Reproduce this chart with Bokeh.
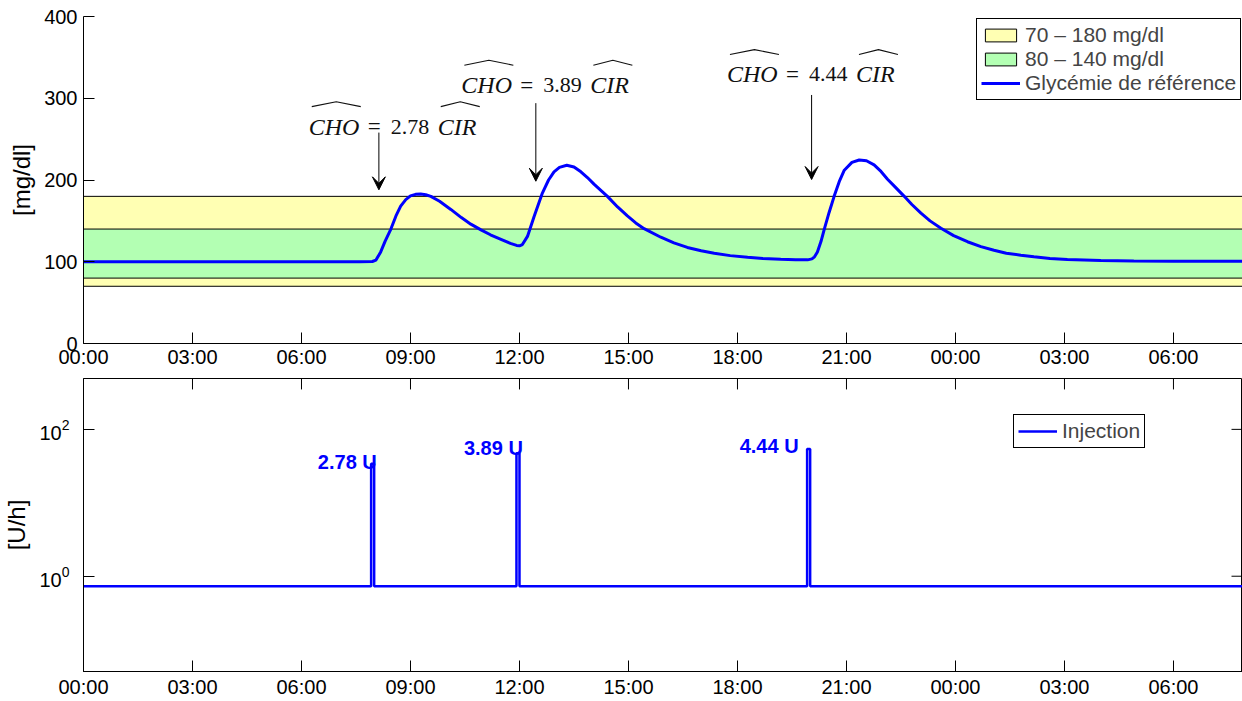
import numpy as np
from bokeh.plotting import figure
from bokeh.layouts import column
from bokeh.models import (Range1d, FixedTicker, Legend, LegendItem, Arrow, VeeHead,
                          ColumnDataSource)
from bokeh.core.properties import value
from bokeh.embed import file_html
from bokeh.resources import INLINE

# ---------------- data ----------------
tick_hours = [0, 3, 6, 9, 12, 15, 18, 21, 24, 27, 30]
tick_labels = ["00:00", "03:00", "06:00", "09:00", "12:00", "15:00",
               "18:00", "21:00", "00:00", "03:00", "06:00"]

glucose_time = [0.0, 7.6, 7.95, 8.05, 8.18, 8.3, 8.46, 8.6, 8.73, 8.87, 9.0, 9.14,
                9.28, 9.42, 9.56, 9.8, 10.11, 10.4, 10.66, 10.94, 11.2, 11.49, 11.75,
                11.92, 12.0, 12.08, 12.22, 12.4, 12.63, 12.8, 12.95, 13.1, 13.3, 13.5,
                13.69, 13.87, 14.05, 14.42, 14.7, 14.97, 15.2, 15.43, 15.89, 16.25,
                16.62, 17.0, 17.36, 17.8, 18.28, 18.7, 19.19, 19.6, 19.93, 20.05,
                20.12, 20.2, 20.3, 20.39, 20.52, 20.66, 20.8, 20.94, 21.15, 21.35,
                21.55, 21.76, 21.95, 22.13, 22.35, 22.59, 22.8, 23.05, 23.3, 23.6,
                23.95, 24.33, 24.7, 25.06, 25.4, 25.8, 26.16, 26.6, 27.08, 28.0,
                28.91, 30.0, 32.0]
glucose_mgdl = [100, 100, 100.3, 102, 112, 125, 140, 156, 168, 176, 180.5, 182.5,
                183, 182, 180, 174, 164, 154, 146, 139, 133, 127.5, 122.5,
                120, 119.5, 121, 131, 155, 184, 200, 210, 215.5, 218, 216,
                210, 203, 195, 180, 167, 156, 147.5, 140.5, 130, 123,
                117.5, 113.5, 110.5, 107.5, 105.5, 104, 103, 102.5, 102.3, 103.5,
                106, 112, 125, 140, 160, 180, 198, 212, 221.5, 224.5,
                223.5, 218.5, 210.5, 201, 191, 180, 170, 159.5, 150, 141,
                132, 124.5, 118.5, 114, 110.5, 108, 106, 104, 102.8, 101.5,
                101, 100.6, 100.5]

band_wide = [70, 180]
band_narrow = [80, 140]

basal_rate = 0.73            # U/h
bolus_end = [8, 12, 20]      # h (bolus delivered over the preceding minutes)
bolus_units = [2.78, 3.89, 4.44]
bolus_minutes = 5

# annotations (hours, mg/dl)
cir_label_x = [6.20, 10.40, 17.71]
cir_label_y = [265.4, 316.1, 329.1]
arrow_x = [8.13, 12.45, 20.04]
arrow_y0 = [258, 294, 304]
arrow_y1 = [188, 198.5, 200.6]

dose_label_x = [6.45, 10.47, 18.06]
dose_label_y = [36.2, 55.4, 58.9]

# ---------------- layout constants ----------------
X_END = 31.9
LEFT = 83
FRAME_W = 1159
PX_PER_H = FRAME_W / X_END
TOP1, G_FRAME_H, BOT1 = 16, 329, 25
G_MAX = 400
PX_PER_MG = G_FRAME_H / G_MAX
TOP2, I_FRAME_H, BOT2 = 8, 295, 27
I_MIN, I_MAX = 0.0504, 493.0
PX_PER_DEC = I_FRAME_H / np.log10(I_MAX / I_MIN)
TICK = 11
FONT = "Liberation Sans"
SERIF = "Liberation Serif"
BLUE = "#0000FF"

xr = Range1d(0, X_END)


def style_axis(ax):
    ax.major_label_text_font = FONT
    ax.major_label_text_font_size = "20px"
    ax.major_label_text_color = "black"
    ax.major_tick_in = TICK
    ax.major_tick_out = 0
    ax.minor_tick_line_color = None
    ax.axis_line_color = "black"
    ax.major_tick_line_color = "black"
    ax.axis_label_text_font = FONT
    ax.axis_label_text_font_size = "24px"
    ax.axis_label_text_font_style = "normal"
    ax.axis_label_text_color = "black"


def style_legend(lg):
    lg.label_text_font = FONT
    lg.label_text_font_size = "21px"
    lg.glyph_width = 39
    lg.glyph_height = 16
    lg.label_standoff = 5
    lg.label_height = 20
    lg.padding = 4
    lg.spacing = 0
    lg.margin = 0
    lg.border_line_color = "black"
    lg.border_line_width = 1
    lg.border_line_alpha = 1
    lg.background_fill_color = "white"
    lg.background_fill_alpha = 1


# ---------------- top plot ----------------
p1 = figure(width=LEFT + FRAME_W, height=TOP1 + G_FRAME_H + BOT1, x_range=xr,
            y_range=Range1d(0, G_MAX), output_backend="svg", toolbar_location=None,
            min_border_left=LEFT, min_border_right=0, min_border_top=TOP1,
            min_border_bottom=BOT1)
p1.outline_line_color = None
p1.grid.visible = False

x_lo, x_hi = -1, X_END + 1
r_y = p1.quad(left=[x_lo], right=[x_hi], bottom=[band_wide[0]], top=[band_wide[1]],
              fill_color="#FFFFB3", line_color="black", line_width=1)
r_g = p1.quad(left=[x_lo], right=[x_hi], bottom=[band_narrow[0]], top=[band_narrow[1]],
              fill_color="#B3FFB3", line_color="black", line_width=1)
r_line = p1.line(glucose_time, glucose_mgdl, line_color=BLUE, line_width=3)

arrows = ColumnDataSource(dict(xs=arrow_x, ys=arrow_y0, xe=arrow_x, ye=arrow_y1))
p1.add_layout(Arrow(end=VeeHead(size=13, fill_color="black", line_color="black",
                                line_width=1),
                    source=arrows, x_start="xs", y_start="ys", x_end="xe", y_end="ye",
                    line_color="black", line_width=1))

# "CHO = n CIR" labels with wide hats
nums = ["%.2f" % u for u in bolus_units]
common = dict(text_baseline="alphabetic", text_align="left", text_color="#111111")
p1.text(x=cir_label_x, y=cir_label_y, text=["CHO"] * 3, x_offset=0,
        text_font=value(SERIF), text_font_style="italic", text_font_size="24px", **common)
p1.text(x=cir_label_x, y=cir_label_y, text=["="] * 3, x_offset=59,
        text_font=value(SERIF), text_font_size="23px", **common)
p1.text(x=cir_label_x, y=cir_label_y, text=nums, x_offset=82,
        text_font=value(SERIF), text_font_size="22px", **common)
p1.text(x=cir_label_x, y=cir_label_y, text=["CIR"] * 3, x_offset=129,
        text_font=value(SERIF), text_font_style="italic", text_font_size="24px", **common)

hat_xs, hat_ys = [], []
for lx, ly in zip(cir_label_x, cir_label_y):
    for a, b in [(3, 52), (132, 171)]:
        hat_xs.append([lx + a / PX_PER_H, lx + (a + b) / 2 / PX_PER_H, lx + b / PX_PER_H])
        hat_ys.append([ly + 20 / PX_PER_MG, ly + 25 / PX_PER_MG, ly + 20 / PX_PER_MG])
p1.multi_line(hat_xs, hat_ys, line_color="#111111", line_width=1.1)

p1.xaxis.ticker = FixedTicker(ticks=tick_hours)
p1.xaxis.major_label_overrides = {h: l for h, l in zip(tick_hours, tick_labels)}
p1.xaxis.major_label_standoff = 2
p1.yaxis.ticker = FixedTicker(ticks=[0, 100, 200, 300, 400])
p1.yaxis.major_label_standoff = 6
p1.yaxis.axis_label = "[mg/dl]"
p1.yaxis.axis_label_standoff = 6
for ax in p1.xaxis + p1.yaxis:
    style_axis(ax)

leg1 = Legend(items=[LegendItem(label="70 – 180 mg/dl", renderers=[r_y]),
                     LegendItem(label="80 – 140 mg/dl", renderers=[r_g]),
                     LegendItem(label="Glycémie de référence", renderers=[r_line])],
              location=(893, 243))
style_legend(leg1)
p1.add_layout(leg1)

# ---------------- bottom plot ----------------
dur = bolus_minutes / 60.0
inj_t = [0.0]
inj_r = [basal_rate]
for t1, u in zip(bolus_end, bolus_units):
    peak = basal_rate + u / dur
    inj_t += [t1 - dur, t1 - dur, t1, t1]
    inj_r += [basal_rate, peak, peak, basal_rate]
inj_t.append(X_END + 1)
inj_r.append(basal_rate)

p2 = figure(width=LEFT + FRAME_W, height=TOP2 + I_FRAME_H + BOT2, x_range=xr,
            y_range=Range1d(I_MIN, I_MAX), y_axis_type="log",
            output_backend="svg", toolbar_location=None,
            min_border_left=LEFT, min_border_right=0, min_border_top=TOP2,
            min_border_bottom=BOT2)
p2.outline_line_color = "black"
p2.outline_line_alpha = 1
p2.grid.visible = False
r_inj = p2.line(inj_t, inj_r, line_color=BLUE, line_width=2.5)

p2.text(x=dose_label_x, y=dose_label_y, text=["%.2f U" % u for u in bolus_units],
        text_font=value(FONT), text_font_style="bold", text_font_size="20px",
        text_color=BLUE, text_baseline="alphabetic", text_align="left")

# tick marks on the top and right edges of the box (inward, like the left/bottom)
y_tick_end = I_MAX / 10 ** (TICK / PX_PER_DEC)
p2.segment(x0=tick_hours, y0=[I_MAX] * len(tick_hours), x1=tick_hours,
           y1=[y_tick_end] * len(tick_hours), line_color="black", line_width=1)
p2.segment(x0=[X_END - TICK / PX_PER_H] * 2, y0=[1, 100], x1=[X_END] * 2, y1=[1, 100],
           line_color="black", line_width=1)

p2.xaxis.ticker = FixedTicker(ticks=tick_hours)
p2.xaxis.major_label_overrides = {h: l for h, l in zip(tick_hours, tick_labels)}
p2.xaxis.major_label_standoff = 4
p2.yaxis.ticker = FixedTicker(ticks=[1, 100])
p2.yaxis.major_label_standoff = 14
p2.yaxis.axis_label = "[U/h]"
p2.yaxis.axis_label_standoff = 6
for ax in p2.xaxis + p2.yaxis:
    style_axis(ax)

leg2 = Legend(items=[LegendItem(label="Injection", renderers=[r_inj])],
              location=(930, 223))
style_legend(leg2)
p2.add_layout(leg2)

layout = column(p1, p2, spacing=0)
open("out.html", "w").write(file_html(layout, INLINE))
